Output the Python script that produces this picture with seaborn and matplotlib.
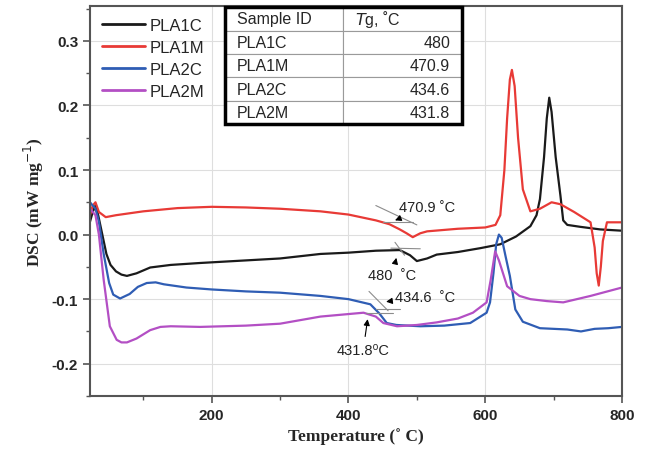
import numpy as np
import pandas as pd
import matplotlib
matplotlib.use('Agg')
import matplotlib.pyplot as plt
import seaborn as sns
from matplotlib.patches import Rectangle
from matplotlib.ticker import MultipleLocator

# ---------------------------------------------------------------
# Données (DSC, mW/mg en fonction de T en °C)
# ---------------------------------------------------------------
t_1c = [22, 26, 30, 34, 40, 46, 52, 60, 68, 76, 90, 110, 140, 183, 250, 300, 359, 400, 440,
        475, 490, 500, 515, 529, 560, 593, 622, 645, 666, 675, 680, 686, 690, 693.6, 697,
        703, 710, 714, 720, 739, 768, 800]
dsc_1c = [0.02, 0.035, 0.045, 0.03, 0.0, -0.03, -0.047, -0.057, -0.062, -0.064, -0.06,
          -0.051, -0.047, -0.044, -0.04, -0.037, -0.03, -0.028, -0.025, -0.024, -0.032,
          -0.041, -0.037, -0.031, -0.027, -0.021, -0.015, -0.003, 0.013, 0.03, 0.055, 0.12,
          0.18, 0.212, 0.19, 0.12, 0.06, 0.022, 0.015, 0.012, 0.008, 0.006]

t_1m = [22, 26, 30, 35, 45, 60, 100, 150, 200, 250, 300, 359, 400, 440, 460, 475, 485, 494,
        505, 515, 560, 600, 615, 622, 628, 632, 636, 639, 643, 648, 655, 666, 680, 697, 710,
        730, 754, 760, 763, 766, 769, 772, 778, 800]
dsc_1m = [0.03, 0.045, 0.05, 0.035, 0.027, 0.03, 0.036, 0.041, 0.043, 0.042, 0.04, 0.036,
          0.031, 0.022, 0.016, 0.008, 0.002, -0.004, 0.002, 0.005, 0.009, 0.011, 0.015, 0.03,
          0.1, 0.18, 0.24, 0.255, 0.23, 0.15, 0.07, 0.036, 0.04, 0.05, 0.047, 0.035, 0.019,
          -0.02, -0.06, -0.079, -0.05, -0.01, 0.019, 0.019]

t_2c = [22, 26, 30, 35, 42, 50, 56, 66, 80, 92, 105, 118, 130, 163, 200, 250, 300, 359, 400,
        432, 445, 456, 470, 505, 540, 578, 602, 607, 612, 616, 620, 624, 630, 636, 644, 655,
        680, 720, 740, 760, 780, 800]
dsc_2c = [0.05, 0.045, 0.04, 0.02, -0.03, -0.075, -0.093, -0.099, -0.092, -0.081, -0.075,
          -0.074, -0.077, -0.082, -0.085, -0.088, -0.09, -0.095, -0.1, -0.108, -0.122, -0.137,
          -0.14, -0.142, -0.141, -0.137, -0.121, -0.105, -0.06, -0.015, 0.0, -0.005, -0.035,
          -0.064, -0.116, -0.135, -0.145, -0.147, -0.15, -0.146, -0.145, -0.143]

t_2m = [22, 26, 30, 35, 42, 51, 61, 68, 76, 90, 110, 125, 140, 183, 250, 300, 359, 422, 440,
        451, 471, 500, 529, 560, 582, 602, 608, 614.5, 620, 632, 650, 666, 690, 714, 754, 800]
dsc_2m = [0.04, 0.035, 0.03, 0.0, -0.07, -0.142, -0.163, -0.167, -0.167, -0.161, -0.148,
          -0.143, -0.142, -0.143, -0.141, -0.138, -0.127, -0.121, -0.127, -0.137, -0.142,
          -0.14, -0.136, -0.13, -0.121, -0.105, -0.07, -0.026, -0.04, -0.08, -0.095, -0.1,
          -0.103, -0.105, -0.095, -0.082]

samples = ['PLA1C', 'PLA1M', 'PLA2C', 'PLA2M']
tg_labels = ['480', '470.9', '434.6', '431.8']
colors = {'PLA1C': '#1a1a1a', 'PLA1M': '#e83a36', 'PLA2C': '#2f5db4', 'PLA2M': '#b34fc4'}

# tangentes (traits gris) et annotations Tg
tangents = [
    ([440, 500], [0.045, 0.015]), ([450, 495], [0.02, 0.02]),
    ([462, 505], [-0.021, -0.022]), ([468, 482], [-0.012, -0.032]),
    ([430, 458], [-0.088, -0.118]), ([440, 475], [-0.116, -0.116]),
    ([425, 465], [-0.121, -0.121]),
]
annot_text = ['470.9 ˚C', '480  ˚C', '434.6  ˚C', '431.8⁰C']
annot_xy = [(468, 0.022), (470, -0.036), (455, -0.104), (428, -0.131)]
annot_txt_pos = [(474, 0.042), (429, -0.063), (468, -0.096), (383, -0.178)]

# ---------------------------------------------------------------
frames = []
for name, t, v in zip(samples, [t_1c, t_1m, t_2c, t_2m], [dsc_1c, dsc_1m, dsc_2c, dsc_2m]):
    frames.append(pd.DataFrame({'T': t, 'DSC': v, 'Sample': name}))
df = pd.concat(frames, ignore_index=True)

sns.set_style('white')
plt.rcParams['font.family'] = ['Liberation Sans', 'DejaVu Sans']

fig = plt.figure(figsize=(6.46, 4.56), dpi=100)
ax = fig.add_axes([90 / 646, 59 / 456, 532 / 646, 390 / 456])

sns.lineplot(data=df, x='T', y='DSC', hue='Sample', palette=colors, estimator=None,
             sort=False, linewidth=1.6, ax=ax, legend=False)

for xs, ys in tangents:
    ax.plot(xs, ys, color='#8c8c8c', linewidth=0.8)

for txt, xy, pos in zip(annot_text, annot_xy, annot_txt_pos):
    ax.annotate(txt, xy=xy, xytext=pos, fontsize=10.5, ha='left', va='center', color='#222222',
                arrowprops=dict(arrowstyle='-|>', color='black', lw=0.8, shrinkA=2, shrinkB=0,
                                mutation_scale=9))

ax.set_xlim(22, 800)
ax.set_ylim(-0.25, 0.354)
ax.set_xticks([200, 400, 600, 800])
ax.set_yticks([-0.2, -0.1, 0.0, 0.1, 0.2, 0.3])
ax.set_yticklabels(['-0.2', '-0.1', '0.0', '0.1', '0.2', '0.3'])
ax.xaxis.set_minor_locator(MultipleLocator(100))
ax.yaxis.set_minor_locator(MultipleLocator(0.05))
ax.tick_params(which='major', direction='out', length=5, width=1.2, color='#555555',
               labelsize=11, bottom=True, left=True)
ax.tick_params(which='minor', direction='out', length=3, width=1.0, color='#555555',
               bottom=True, left=True)
for lab in ax.get_xticklabels() + ax.get_yticklabels():
    lab.set_fontweight('bold')
ax.grid(True, which='major', color='#dedede', linewidth=0.8)
for sp in ax.spines.values():
    sp.set_color('#555555')
    sp.set_linewidth(1.5)

ax.set_xlabel('Temperature (˚ C)', family='Liberation Serif', fontweight='bold', fontsize=12.5)
ax.set_ylabel('DSC (mW mg$^{-1}$)', family='Liberation Serif', fontweight='bold', fontsize=12.5)

handles = [plt.Line2D([], [], color=colors[s], linewidth=2) for s in samples]
leg = ax.legend(handles, samples, loc='upper left', frameon=False, fontsize=12,
                handlelength=2.6, handletextpad=0.3, labelspacing=0.42,
                borderaxespad=0.3, bbox_to_anchor=(0.0, 1.0))
leg.set_zorder(6)

# tableau Tg
cell_text = [[s, v] for s, v in zip(samples, tg_labels)]
tab = ax.table(cellText=cell_text, colLabels=['Sample ID', '$T$g, ˚C'],
               bbox=[0.254, 0.697, 0.445, 0.30], cellLoc='left', colLoc='left')
tab.set_zorder(8)
tab.auto_set_font_size(False)
tab.set_fontsize(11.5)
for (r, c), cell in tab.get_celld().items():
    cell.set_edgecolor('#9a9a9a')
    cell.set_linewidth(0.8)
    cell.set_facecolor('white')
    if c == 1 and r > 0:
        cell.get_text().set_ha('right')
        cell._loc = 'right'
ax.add_patch(Rectangle((0.254, 0.697), 0.445, 0.30, transform=ax.transAxes, fill=False,
                       edgecolor='black', linewidth=2.5, zorder=10, clip_on=False))

fig.savefig('out.png', dpi=100)
